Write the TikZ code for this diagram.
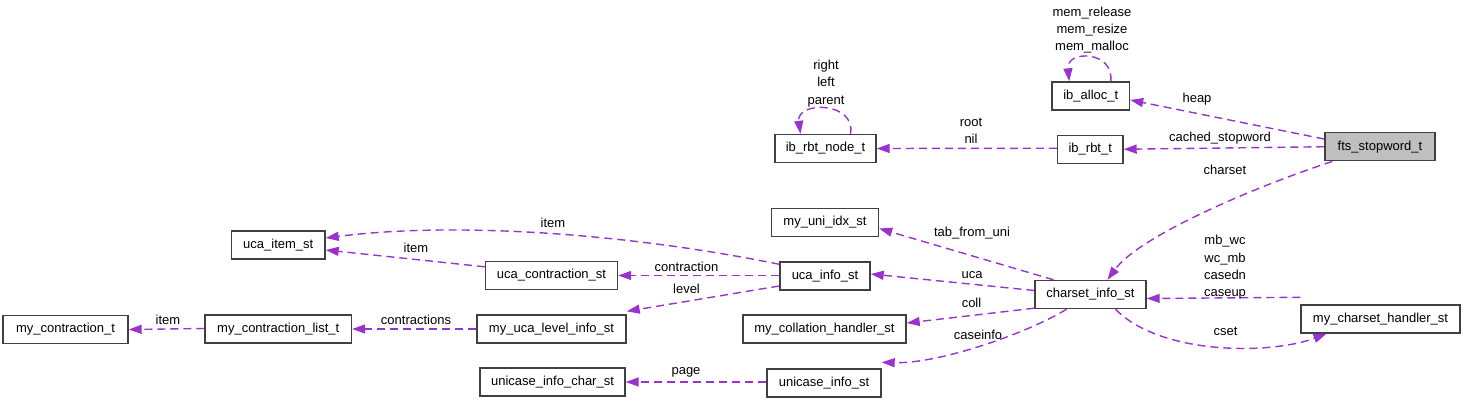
\documentclass[tikz,border=0pt]{standalone}
\usepackage{fontspec}
\setmainfont{Liberation Sans}
\usetikzlibrary{arrows.meta}
\definecolor{edgec}{HTML}{9A32CD}
\definecolor{boxc}{HTML}{404040}
\definecolor{grayfill}{HTML}{BFBFBF}
\tikzset{
  box/.style={draw=boxc, line width=1.4pt, fill=white, minimum height=28pt, inner sep=0pt, font=\fontsize{13}{15}\selectfont},
  rel/.style={draw=edgec, line width=1.4pt, dash pattern=on 8pt off 5pt, -{Triangle[length=13pt,width=9pt]}},
  lbl/.style={inner sep=0pt, align=center, font=\fontsize{13}{17.3}\selectfont}
}
\begin{document}
\begin{tikzpicture}[x=1pt,y=-1pt]
\useasboundingbox (0,0) rectangle (1464,403);
% nodes
\node[box, fill=grayfill, minimum width=110pt] (fts) at (1380,146.75) {fts\_stopword\_t};
\node[box, minimum width=77.5pt] (alloc) at (1090.75,96) {ib\_alloc\_t};
\node[box, minimum width=65.5pt] (rbt) at (1090.25,149.25) {ib\_rbt\_t};
\node[box, minimum width=101pt] (rbtnode) at (825.5,148.5) {ib\_rbt\_node\_t};
\node[box, minimum width=107pt] (uniidx) at (825,222.5) {my\_uni\_idx\_st};
\node[box, minimum width=93.5pt] (ucaitem) at (278.25,245) {uca\_item\_st};
\node[box, minimum width=90pt] (ucainfo) at (825,276) {uca\_info\_st};
\node[box, minimum width=132pt] (ucacontr) at (551.5,275.5) {uca\_contraction\_st};
\node[box, minimum width=111pt] (charset) at (1090.5,294.5) {charset\_info\_st};
\node[box, minimum width=159pt] (handler) at (1380.5,319) {my\_charset\_handler\_st};
\node[box, minimum width=125pt] (mycontr) at (65.5,329.5) {my\_contraction\_t};
\node[box, minimum width=146.5pt] (contrlist) at (278.25,329) {my\_contraction\_list\_t};
\node[box, minimum width=149pt] (levelinfo) at (551.5,329) {my\_uca\_level\_info\_st};
\node[box, minimum width=163pt] (collhandler) at (824.5,329) {my\_collation\_handler\_st};
\node[box, minimum width=145pt] (casechar) at (552.5,382) {unicase\_info\_char\_st};
\node[box, minimum width=114pt] (caseinfo) at (824,383) {unicase\_info\_st};
% edges
\draw[rel] ([yshift=-7pt]fts.north west) -- ([yshift=-4pt]alloc.east);
\draw[rel] (fts.west) -- (rbt.east);
\draw[rel] ([xshift=8pt]fts.south west) .. controls (1260,185) and (1140,235) .. ([xshift=17pt]charset.north);
\draw[rel] ([xshift=20pt]alloc.north) .. controls (1114,50) and (1066,50) .. ([xshift=-21.5pt]alloc.north);
\draw[rel] ([xshift=25pt]rbtnode.north) .. controls (856,101) and (796,101) .. ([xshift=-25pt]rbtnode.north);
\draw[rel] ([yshift=1pt]rbt.west) -- (rbtnode.east);
\draw[rel] ([xshift=-37pt]charset.north) -- ([yshift=-6pt]uniidx.east);
\draw[rel] ([yshift=4pt]charset.west) -- ([yshift=2pt]ucainfo.east);
\draw[rel] ([yshift=1pt]charset.south west) -- ([yshift=6pt]collhandler.east);
\draw[rel] ([xshift=-24pt]charset.south) .. controls (1030,332) and (940,364) .. ([yshift=6pt]caseinfo.north east);
\draw[rel] ([yshift=7pt]handler.north west) -- ([yshift=-4pt]charset.east);
\draw[rel] ([xshift=25pt]charset.south) .. controls (1160,355) and (1270,355) .. ([xshift=-54pt]handler.south);
\draw[rel] ([yshift=-3pt]ucainfo.north west) .. controls (620,232) and (450,222) .. ([yshift=7pt]ucaitem.east);
\draw[rel] ([yshift=-6pt]ucacontr.north west) -- ([yshift=-5pt]ucaitem.east);
\draw[rel] ([yshift=0.5pt]ucainfo.west) -- (ucacontr.east);
\draw[rel] ([yshift=-10pt]ucainfo.west) -- ([yshift=3pt]levelinfo.north east);
\draw[rel] (levelinfo.west) -- (contrlist.east);
\draw[rel] ([yshift=0.5pt]contrlist.west) -- (mycontr.east);
\draw[rel] ([yshift=1pt]caseinfo.west) -- (casechar.east);
% labels
\node[lbl] (lheap) at (1197,99) {heap};
\node[lbl] (lcached) at (1220,138) {cached\_stopword};
\node[lbl] (lcharset) at (1225,170) {charset};
\node[lbl] (lmem) at (1092,30) {mem\_release\\mem\_resize\\mem\_malloc};
\node[lbl] (lrbtself) at (826,83.5) {right\\left\\parent};
\node[lbl] (lrootnil) at (971,131) {root\\nil};
\node[lbl] (ltab) at (972,233) {tab\_from\_uni};
\node[lbl] (luca) at (972,275) {uca};
\node[lbl] (lcoll) at (971.5,302.5) {coll};
\node[lbl] (lcaseinfo) at (978,335) {caseinfo};
\node[lbl] (lhandler) at (1225,267.5) {mb\_wc\\wc\_mb\\casedn\\caseup};
\node[lbl] (lcset) at (1225.5,331.5) {cset};
\node[lbl] (litem1) at (553,222.5) {item};
\node[lbl] (litem2) at (416,247.5) {item};
\node[lbl] (lcontraction) at (686.5,266.5) {contraction};
\node[lbl] (llevel) at (686.5,288.5) {level};
\node[lbl] (lcontractions) at (416,319.5) {contractions};
\node[lbl] (litem3) at (168,319.5) {item};
\node[lbl] (lpage) at (686,372) {page};
\end{tikzpicture}
\end{document}
